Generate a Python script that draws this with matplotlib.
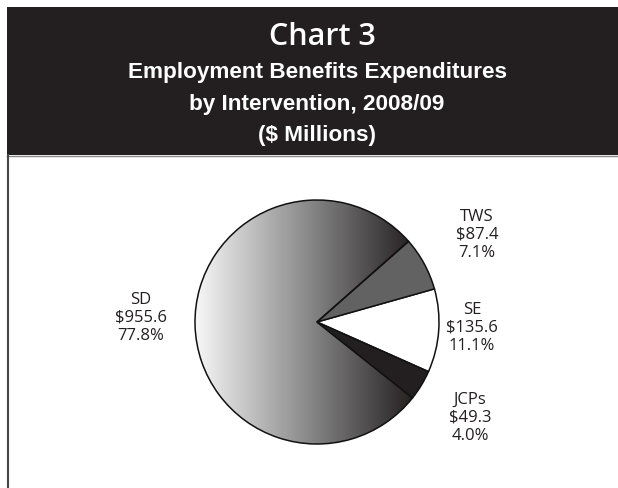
import numpy as np
import matplotlib.pyplot as plt
from matplotlib.colors import LinearSegmentedColormap
from matplotlib.patches import Rectangle

# Employment Benefits expenditures by intervention, 2008/09 ($ millions)
labels = ['SE', 'TWS', 'SD', 'JCPs']
amounts = [135.6, 87.4, 955.6, 49.3]
shares = ['11.1%', '7.1%', '77.8%', '4.0%']
colors = ['white', '#626262', 'none', '#231f20']

W, H = 618, 489
fig = plt.figure(figsize=(W / 100, H / 100), dpi=100)
ax = fig.add_axes([0, 0, 1, 1])

# pie
cx, cy, r = 317, H - 323, 122
wedges, _ = ax.pie(amounts, colors=colors, startangle=-24, counterclock=True,
                   center=(cx, cy), radius=r, frame=True,
                   wedgeprops=dict(edgecolor='#111111', linewidth=1.1))
ax.set_xlim(0, W)
ax.set_ylim(0, H)
ax.set_aspect('auto')
ax.axis('off')

# horizontal grey gradient inside the SD slice
sd = wedges[labels.index('SD')]
grad = np.linspace(0, 1, 256).reshape(1, -1)
cmap = LinearSegmentedColormap.from_list('sd', ['#f7f7f7', '#8c8c8c', '#231f20'])
img = ax.imshow(grad, cmap=cmap, extent=(cx - r, cx + 98, cy - r, cy + r),
                aspect='auto', zorder=0.5, interpolation='bicubic')
img.set_clip_path(sd)
sd.set_zorder(1)

# header band and frame
band = '#231f20'
ax.add_patch(Rectangle((7, H - 156), W - 7, 148, facecolor=band, edgecolor='none'))
ax.plot([7, W], [H - 157, H - 157], color='#888888', lw=1)
ax.plot([7.5, 7.5], [0, H - 156], color='#444444', lw=1.5)

ax.text(322, H - 37, 'Chart 3', color='white', ha='center', va='center',
        fontsize=22, fontweight='semibold', family='Open Sans')
title_lines = ['Employment Benefits Expenditures', 'by Intervention, 2008/09', '($ Millions)']
for i, line in enumerate(title_lines):
    ax.text(317, H - 73 - i * 31.5, line, color='white', ha='center', va='center',
            fontsize=16.2, fontweight='bold', family='Liberation Sans')

# slice labels
label_pos = {'SD': (141, 318), 'TWS': (477, 235), 'SE': (472, 328), 'JCPs': (470, 418)}
for name, amt, pct in zip(labels, amounts, shares):
    x, y = label_pos[name]
    ax.text(x, H - y, f'{name}\n${amt:.1f}\n{pct}', ha='center', va='center',
            fontsize=12, family='Open Sans', color='#231f20', linespacing=1.2)

fig.savefig('out.png', dpi=100)
